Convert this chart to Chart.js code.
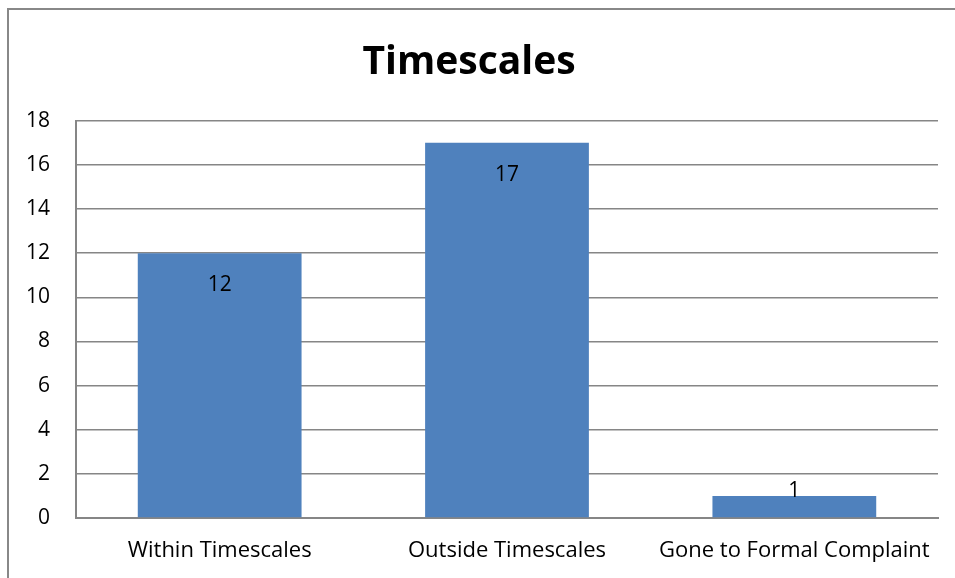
<!DOCTYPE html>
<html>
<head>
<meta charset="utf-8">
<script src="https://cdn.jsdelivr.net/npm/chart.js@4"></script>
<style>
  html, body { margin: 0; padding: 0; background: #fff; }
  #wrap { width: 955px; height: 578px; position: relative; }
</style>
</head>
<body>
<div id="wrap"><canvas id="chart" width="955" height="578"></canvas></div>
<script>
const categories = ["Within Timescales", "Outside Timescales", "Gone to Formal Complaint"];
const counts = [12, 17, 1];
const yTicks = [0, 2, 4, 6, 8, 10, 12, 14, 16, 18];

const FONT = "'Open Sans', 'Noto Sans', sans-serif";

// outer frame and value labels
const framePlugin = {
    id: "frame",
    beforeDraw(chart) {
        const ctx = chart.ctx;
        ctx.save();
        ctx.fillStyle = "#fff";
        ctx.fillRect(0, 0, chart.width, chart.height);
        ctx.strokeStyle = "#888";
        ctx.lineWidth = 2;
        ctx.strokeRect(8, 9, 1200, 1200);
        ctx.restore();
    },
    afterDatasetsDraw(chart) {
        const ctx = chart.ctx;
        const meta = chart.getDatasetMeta(0);
        ctx.save();
        ctx.font = "21px " + FONT;
        ctx.fillStyle = "#000";
        ctx.textAlign = "center";
        ctx.textBaseline = "middle";
        meta.data.forEach((bar, i) => {
            let y = bar.y + 32;
            if (y > bar.base - 8) y = bar.y - 5;
            ctx.fillText(String(counts[i]), bar.x, y);
        });
        ctx.restore();
    }
};

new Chart(document.getElementById("chart"), {
    type: "bar",
    data: {
        labels: categories,
        datasets: [{
            data: counts,
            backgroundColor: "#4F81BD",
            borderWidth: 0,
            barPercentage: 0.57,
            categoryPercentage: 1
        }]
    },
    options: {
        responsive: false,
        animation: false,
        layout: { padding: { left: 0, right: 17, top: 0, bottom: 0 } },
        plugins: {
            legend: { display: false },
            tooltip: { enabled: false },
            title: {
                display: true,
                text: "Timescales",
                color: "#000",
                font: { family: FONT, size: 39, weight: "bold" },
                padding: { top: 39, bottom: 35 }
            }
        },
        scales: {
            x: {
                grid: { display: false, drawTicks: false },
                border: { color: "#868686", width: 2 },
                ticks: { color: "#000", font: { family: FONT, size: 22 }, padding: 20, maxRotation: 0 },
                afterFit(scale) { scale.height = 60; }
            },
            y: {
                min: 0,
                max: 18,
                afterBuildTicks(scale) { scale.ticks = yTicks.map(v => ({ value: v })); },
                grid: { color: "#868686", lineWidth: 1.5, drawTicks: false },
                border: { color: "#868686", width: 2 },
                ticks: { color: "#000", font: { family: FONT, size: 21 }, padding: 26 },
                afterFit(scale) { scale.width = 76; }
            }
        }
    },
    plugins: [framePlugin]
});
</script>
</body>
</html>
